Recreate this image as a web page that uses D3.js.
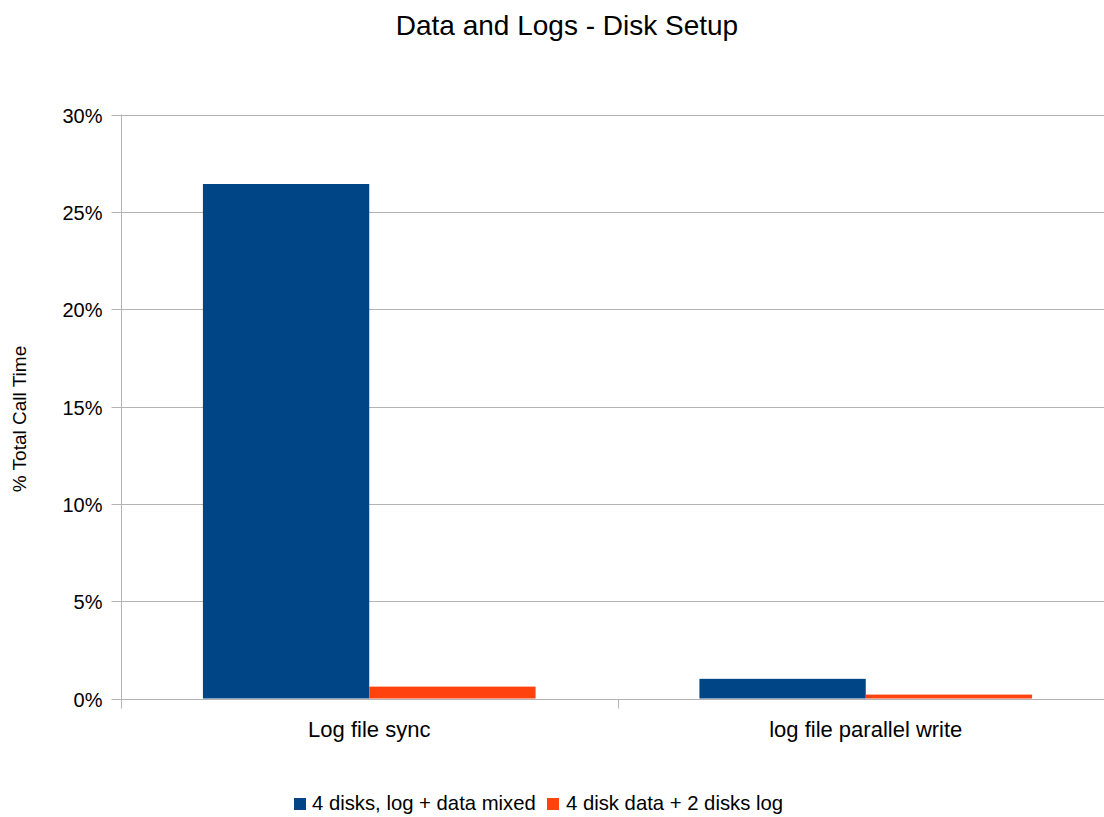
<!DOCTYPE html>
<html>
<head>
<meta charset="utf-8">
<script src="https://cdn.jsdelivr.net/npm/d3@7"></script>
<style>
  html, body { margin: 0; padding: 0; background: #fff; }
  svg { display: block; font-family: "Liberation Sans", Arial, sans-serif; }
</style>
</head>
<body>
<svg id="chart" width="1104" height="817"></svg>
<script>
// Categories, series and values (fraction of total call time)
const categories = ["Log file sync", "log file parallel write"];
const seriesNames = ["4 disks, log + data mixed", "4 disk data + 2 disks log"];
const mixedValues = [0.2643, 0.0101];
const separateValues = [0.0061, 0.0020];
const yTicks = [0, 0.05, 0.10, 0.15, 0.20, 0.25, 0.30];
const colors = ["#004586", "#ff420e"];

const seriesValues = [mixedValues, separateValues];
const rows = categories.map((c, i) => ({
  category: c,
  values: seriesNames.map((s, j) => ({ series: s, value: seriesValues[j][i] }))
}));

const svg = d3.select("#chart");
const plotLeft = 121, plotRight = 1114, plotTop = 114.5, plotBottom = 698.5;
const gridColor = "#b3b3b3";

const x0 = d3.scaleBand().domain(categories).range([plotLeft, plotRight]).padding(0);
const bw = x0.bandwidth();
const inset = 0.165;
const x1 = d3.scaleBand().domain(seriesNames).range([bw * inset, bw * (1 - inset)]).padding(0);
const y = d3.scaleLinear().domain([0, 0.30]).range([plotBottom, plotTop]);
const color = d3.scaleOrdinal().domain(seriesNames).range(colors);

// Title
svg.append("text")
  .attr("x", 567).attr("y", 35)
  .attr("text-anchor", "middle")
  .attr("font-size", 28)
  .attr("fill", "#000")
  .text("Data and Logs - Disk Setup");

// Horizontal grid lines
svg.append("g")
  .selectAll("line")
  .data(yTicks)
  .join("line")
  .attr("x1", plotLeft).attr("x2", plotRight)
  .attr("y1", d => Math.round(y(d)) + 0.5).attr("y2", d => Math.round(y(d)) + 0.5)
  .attr("stroke", gridColor).attr("stroke-width", 1);

// Y axis
const yAxis = svg.append("g")
  .attr("transform", `translate(${plotLeft + 0.5},0)`)
  .call(d3.axisLeft(y).tickValues(yTicks).tickFormat(d3.format(".0%")).tickSize(10).tickPadding(9));
yAxis.select(".domain").attr("stroke", gridColor).attr("d", `M0,${plotTop}V${plotBottom + 9}`);
yAxis.selectAll(".tick line").attr("stroke", gridColor);
yAxis.selectAll(".tick").attr("transform", d => `translate(0,${Math.round(y(d)) + 0.5})`);
yAxis.selectAll(".tick text")
  .attr("font-size", 20).attr("fill", "#000")
  .attr("font-family", "'Liberation Sans', Arial, sans-serif")
  .attr("dy", "0.35em");

// Y axis title
svg.append("text")
  .attr("transform", "translate(26,419) rotate(-90)")
  .attr("text-anchor", "middle")
  .attr("font-size", 19)
  .attr("fill", "#000")
  .text("% Total Call Time");

// Bars
const groups = svg.append("g")
  .selectAll("g")
  .data(rows)
  .join("g")
  .attr("transform", d => `translate(${x0(d.category)},0)`);

groups.selectAll("rect")
  .data(d => d.values)
  .join("rect")
  .attr("x", d => x1(d.series))
  .attr("width", x1.bandwidth())
  .attr("y", d => y(d.value))
  .attr("height", d => y(0) - y(d.value))
  .attr("fill", d => color(d.series));

// Bottom axis line and category boundary ticks
const base = Math.round(y(0)) + 0.5;
svg.append("line")
  .attr("x1", plotLeft).attr("x2", plotRight)
  .attr("y1", base).attr("y2", base)
  .attr("stroke", gridColor);
const bounds = categories.map(c => x0(c)).concat([plotRight]);
svg.append("g")
  .selectAll("line")
  .data(bounds)
  .join("line")
  .attr("x1", d => Math.round(d) + 0.5).attr("x2", d => Math.round(d) + 0.5)
  .attr("y1", base).attr("y2", base + 9)
  .attr("stroke", gridColor);

// Category labels
const xAxis = svg.append("g")
  .attr("transform", `translate(0,${plotBottom})`)
  .call(d3.axisBottom(x0).tickSize(0).tickPadding(23));
xAxis.select(".domain").remove();
xAxis.selectAll(".tick text")
  .attr("font-size", 22).attr("fill", "#000")
  .attr("font-family", "'Liberation Sans', Arial, sans-serif");

// Legend
const legendItems = [
  { name: seriesNames[0], sx: 294, tx: 312 },
  { name: seriesNames[1], sx: 547, tx: 566 }
];
const legend = svg.append("g");
legend.selectAll("rect")
  .data(legendItems)
  .join("rect")
  .attr("x", d => d.sx).attr("y", 798)
  .attr("width", 12).attr("height", 12)
  .attr("fill", d => color(d.name));
legend.selectAll("text")
  .data(legendItems)
  .join("text")
  .attr("x", d => d.tx).attr("y", 810)
  .attr("font-size", 20.3)
  .attr("fill", "#000")
  .text(d => d.name);
</script>
</body>
</html>
